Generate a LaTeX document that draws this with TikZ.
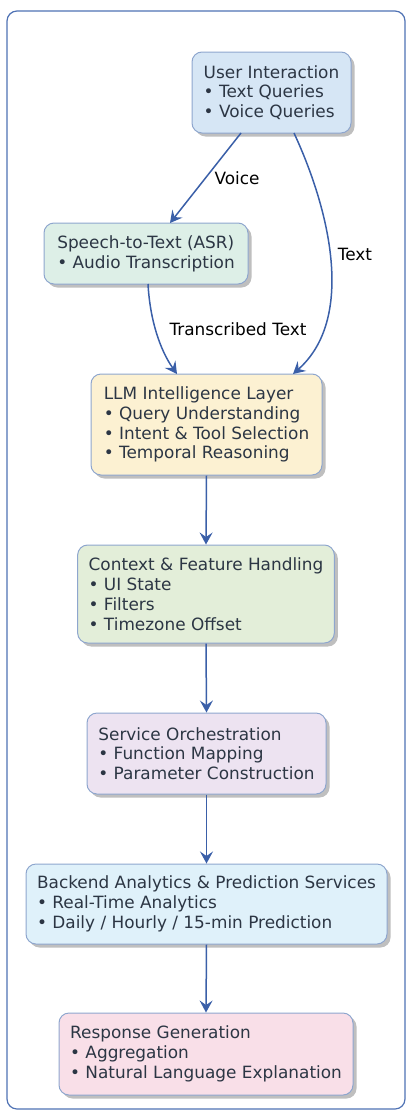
\documentclass[tikz,border=0pt]{standalone}
\usepackage{fontspec}
\setmainfont{DejaVu Sans}
\usetikzlibrary{arrows.meta,shadows,positioning}
\definecolor{frameblue}{HTML}{4F72B4}
\definecolor{edgeblue}{HTML}{3A5FA8}
\definecolor{boxline}{HTML}{8EA6CE}
\definecolor{txt}{HTML}{2C3644}
\definecolor{cUser}{HTML}{D6E6F5}
\definecolor{cAsr}{HTML}{DDEFE7}
\definecolor{cLlm}{HTML}{FCF1D2}
\definecolor{cCtx}{HTML}{E3EED9}
\definecolor{cSvc}{HTML}{EDE3F1}
\definecolor{cBack}{HTML}{DFF1FA}
\definecolor{cResp}{HTML}{F9DFE8}
\tikzset{
  box/.style={draw=boxline, line width=1pt, rounded corners=10pt, align=left,
    text=txt, font=\fontsize{16.9}{19.8}\selectfont, inner xsep=11pt, inner ysep=0pt,
    drop shadow={shadow xshift=3.5pt, shadow yshift=-3.5pt, fill=black, opacity=0.25}},
  flow/.style={draw=edgeblue, line width=1.5pt, -{Stealth[length=12pt,width=13pt,inset=4.5pt]}},
  elabel/.style={font=\fontsize{16.9}{19.8}\selectfont, text=black, inner sep=1pt}
}
\begin{document}
\begin{tikzpicture}[x=1pt,y=-1pt]
\useasboundingbox (0,0) rectangle (406,1111);
\draw[frameblue, line width=1.2pt, rounded corners=10pt] (7,11) rectangle (405,1109);

\node[box, fill=cUser, minimum width=159pt, minimum height=81pt] (user) at (271.5,92.5)
  {User Interaction\\ • Text Queries\\ • Voice Queries};
\node[box, fill=cAsr, minimum width=204pt, minimum height=61pt] (asr) at (146,253.5)
  {Speech-to-Text (ASR)\\ • Audio Transcription};
\node[box, fill=cLlm, minimum width=231pt, minimum height=101pt] (llm) at (206.5,424.5)
  {LLM Intelligence Layer\\ • Query Understanding\\ • Intent \& Tool Selection\\ • Temporal Reasoning};
\node[box, fill=cCtx, minimum width=256pt, minimum height=98pt] (ctx) at (206,594)
  {Context \& Feature Handling\\ • UI State\\ • Filters\\ • Timezone Offset};
\node[box, fill=cSvc, minimum width=239pt, minimum height=81pt] (svc) at (206.5,753.5)
  {Service Orchestration\\ • Function Mapping\\ • Parameter Construction};
\node[box, fill=cBack, minimum width=361pt, minimum height=80pt] (back) at (206.5,904)
  {Backend Analytics \& Prediction Services\\ • Real-Time Analytics\\ • Daily / Hourly / 15-min Prediction};
\node[box, fill=cResp, minimum width=294pt, minimum height=82pt] (resp) at (206,1054)
  {Response Generation\\ • Aggregation\\ • Natural Language Explanation};

\coordinate (uv) at (241,133);
\coordinate (ut) at (294,133);
\coordinate (av) at (170,223);
\coordinate (ab) at (148,284);
\coordinate (lt) at (177,374);
\coordinate (lr) at (293,374);

\draw[flow] (uv) -- (av);
\node[elabel] (lv) at (237,178) {Voice};
\draw[flow] (ut) .. controls (332,215) and (354,320) .. (lr);
\node[elabel] (ltx) at (355,254) {Text};
\draw[flow] (ab) .. controls (150,320) and (160,350) .. (lt);
\node[elabel] (ltr) at (238,329) {Transcribed Text};

\draw[flow] (llm.south) -- (ctx.north);
\draw[flow] (ctx.south) -- (svc.north);
\draw[flow] (svc.south) -- (back.north);
\draw[flow] (back.south) -- (resp.north);
\end{tikzpicture}
\end{document}
